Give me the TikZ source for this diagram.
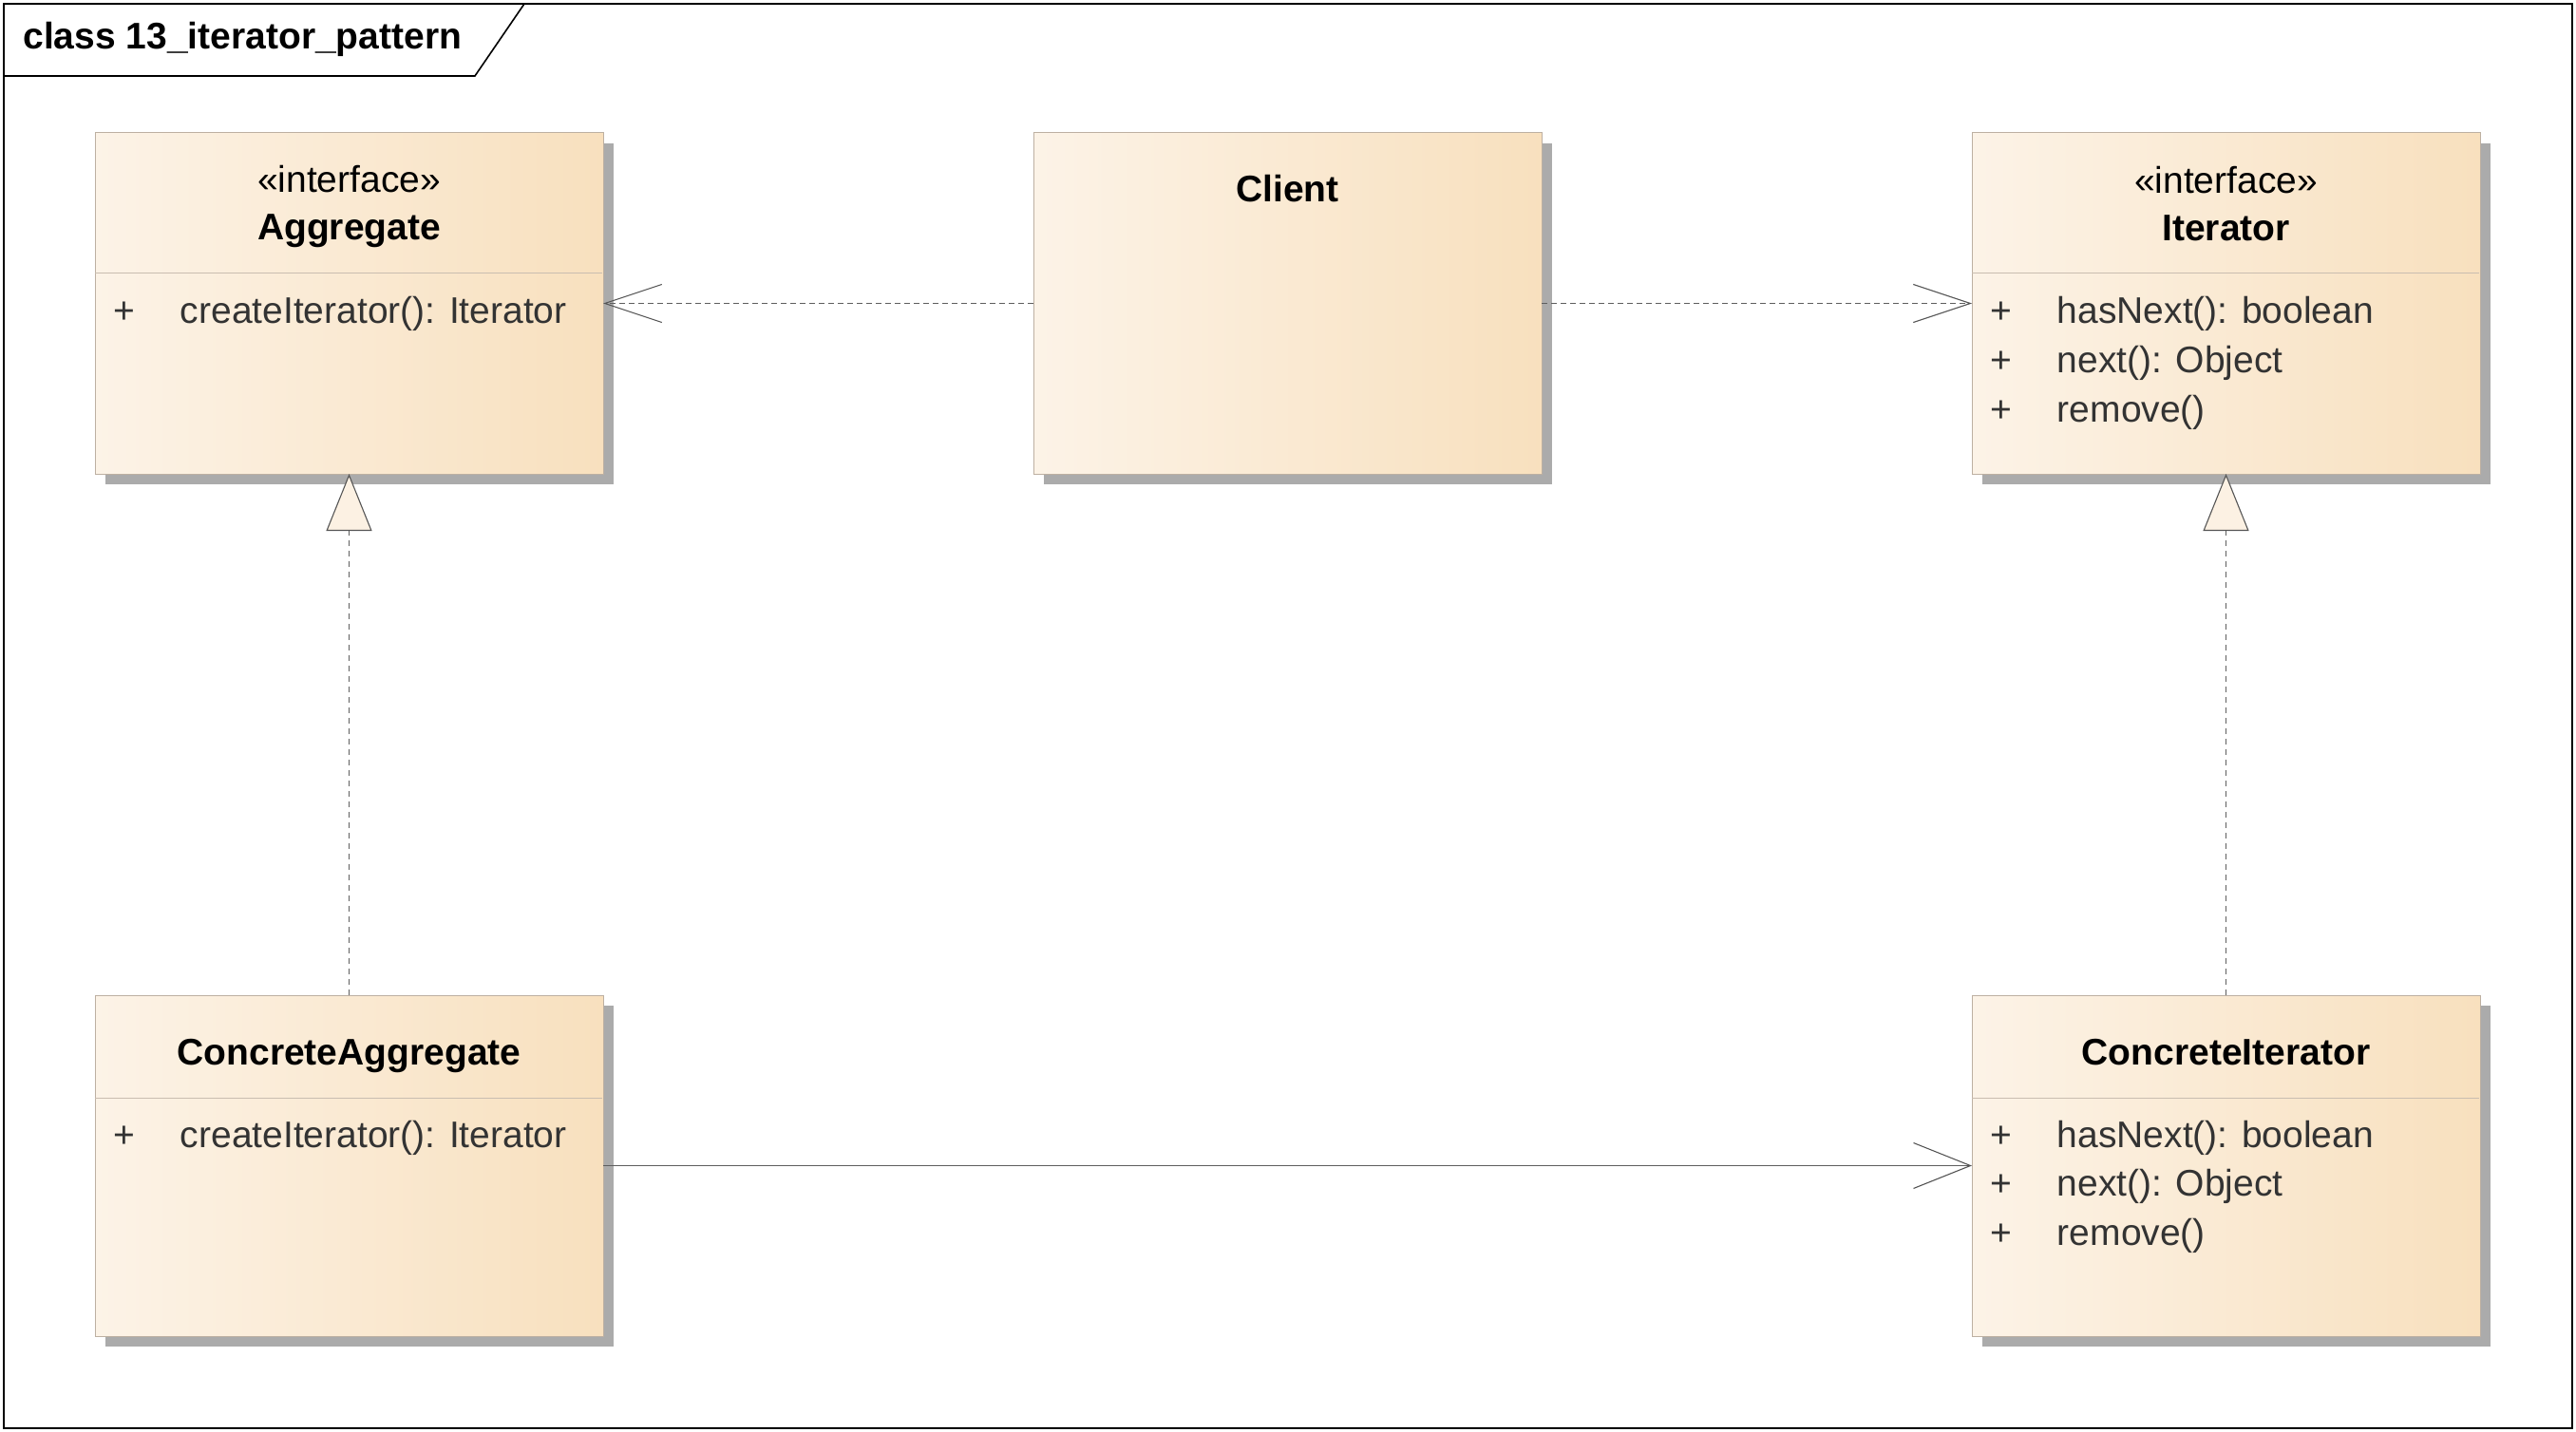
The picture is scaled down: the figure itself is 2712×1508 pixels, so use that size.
\documentclass[tikz,border=0pt]{standalone}
\usepackage{fontspec}
\setmainfont{Liberation Sans}
\usetikzlibrary{arrows.meta,shadows}
\definecolor{boxl}{HTML}{FCF3E7}
\definecolor{boxr}{HTML}{F8E0BE}
\definecolor{boxline}{HTML}{BDB0A2}
\definecolor{sepc}{HTML}{C9BDB0}
\definecolor{shadowc}{HTML}{ABABAB}
\definecolor{linec}{HTML}{5E5E5E}
\definecolor{tipc}{HTML}{555555}
\definecolor{membertext}{HTML}{333333}
\definecolor{trifill}{HTML}{FCF1E3}
\begin{document}
\begin{tikzpicture}[x=0.5pt,y=-0.5pt,
  classbox/.style={draw=boxline, line width=0.5pt, left color=boxl, right color=boxr,
    minimum width=267.5pt, minimum height=179.5pt, inner sep=0pt, outer sep=0pt,
    drop shadow={shadow xshift=5.5pt, shadow yshift=-5.5pt, fill=shadowc, opacity=1}},
  txt/.style={font=\fontsize{19.5pt}{23pt}\selectfont, inner sep=0pt, anchor=base},
  stereo/.style={txt, text=black},
  cname/.style={txt, text=black, font=\fontsize{19.5pt}{23pt}\selectfont\bfseries},
  vis/.style={txt, text=membertext},
  member/.style={txt, text=membertext, anchor=base west},
  sepline/.style={draw=sepc, line width=0.5pt},
  dep/.style={draw=linec, line width=0.55pt, dash pattern=on 3pt off 2pt,
    -{Straight Barb[length=30pt,width=20pt,color=tipc]}},
  real/.style={draw=linec, line width=0.55pt, dash pattern=on 3pt off 2.5pt,
    -{Triangle[length=30pt,width=24pt,color=tipc,fill=trifill]}},
  assoc/.style={draw=linec, line width=0.55pt,
    -{Straight Barb[length=30pt,width=24pt,color=tipc]}},
  frame/.style={draw=black, line width=0.8pt}
]
\useasboundingbox (0,0) rectangle (2712,1508);
\fill[white] (0,0) rectangle (2712,1508);

% frame
\draw[frame] (4,4) rectangle (2708,1504);
\draw[frame] (4,80) -- (500,80) -- (552,4);
\node[cname, anchor=base west] (title) at (24,52) {class 13\_iterator\_pattern};

% class boxes
\node[classbox] (agg) at (367.5,319.5) {};
\node[classbox] (client) at (1355.5,319.5) {};
\node[classbox] (iter) at (2343.5,319.5) {};
\node[classbox] (cagg) at (367.5,1227.5) {};
\node[classbox] (citer) at (2343.5,1227.5) {};

% separators
\draw[sepline] (100,288) -- (634,288);
\draw[sepline] (2076,288) -- (2610,288);
\draw[sepline] (100,1156) -- (634,1156);
\draw[sepline] (2076,1156) -- (2610,1156);

% Aggregate
\node[stereo] (aggS) at (367.5,203) {«interface»};
\node[cname] (aggN) at (367.5,253) {Aggregate};
\node[vis] (aggV1) at (131,341) {+};
\node[member] (aggM1) at (189.5,341) {createIterator(): Iterator};

% Client
\node[cname] (clientN) at (1355.5,213) {Client};

% Iterator
\node[stereo] (iterS) at (2343.5,204) {«interface»};
\node[cname] (iterN) at (2343.5,254) {Iterator};
\node[vis] (iterV1) at (2107,341) {+};
\node[member] (iterM1) at (2165.5,341) {hasNext(): boolean};
\node[vis] (iterV2) at (2107,392.5) {+};
\node[member] (iterM2) at (2165.5,392.5) {next(): Object};
\node[vis] (iterV3) at (2107,444) {+};
\node[member] (iterM3) at (2165.5,444) {remove()};

% ConcreteAggregate
\node[cname] (caggN) at (367.5,1121) {ConcreteAggregate};
\node[vis] (caggV1) at (131,1208) {+};
\node[member] (caggM1) at (189.5,1208) {createIterator(): Iterator};

% ConcreteIterator
\node[cname] (citerN) at (2343.5,1121) {ConcreteIterator};
\node[vis] (citerV1) at (2107,1208) {+};
\node[member] (citerM1) at (2165.5,1208) {hasNext(): boolean};
\node[vis] (citerV2) at (2107,1259.5) {+};
\node[member] (citerM2) at (2165.5,1259.5) {next(): Object};
\node[vis] (citerV3) at (2107,1311) {+};
\node[member] (citerM3) at (2165.5,1311) {remove()};

% connectors
\draw[dep] (client.west) -- (agg.east);
\draw[dep] (client.east) -- (iter.west);
\draw[real] (cagg.north) -- (agg.south);
\draw[real] (citer.north) -- (iter.south);
\draw[assoc] (cagg.east) -- (citer.west);
\end{tikzpicture}
\end{document}
